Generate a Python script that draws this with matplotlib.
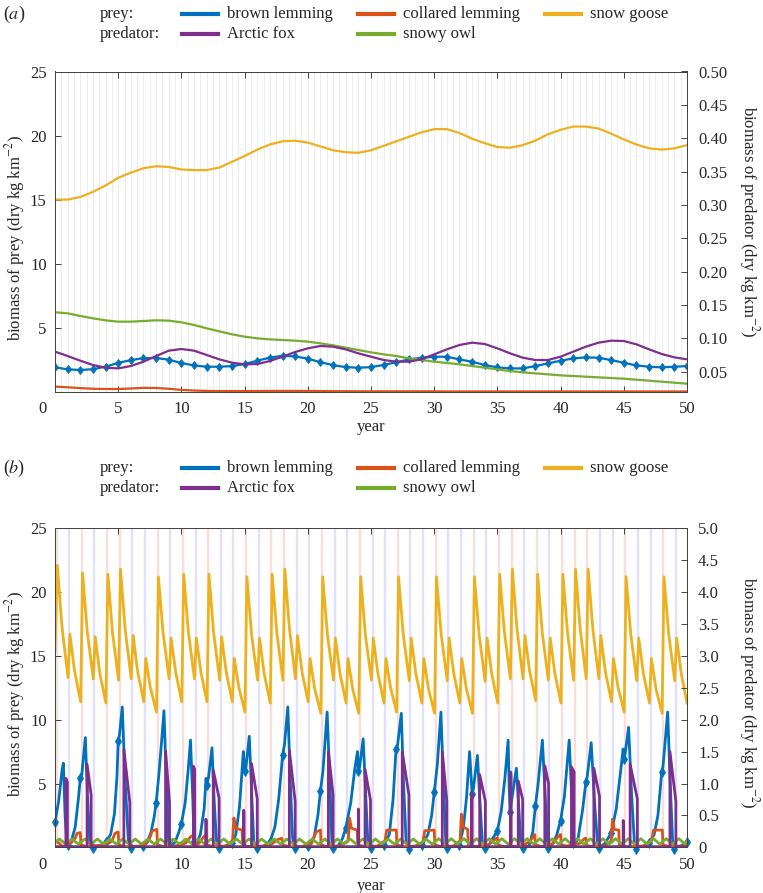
import matplotlib.pyplot as plt
from matplotlib.lines import Line2D
from matplotlib.ticker import FuncFormatter
from matplotlib.transforms import ScaledTranslation
import numpy as np

plt.rcParams['font.family'] = ['Liberation Serif', 'DejaVu Serif']
plt.rcParams['mathtext.fontset'] = 'stix'
plt.rcParams['font.size'] = 12

# ---------------- data ----------------
prey_names = ['brown lemming', 'collared lemming', 'snow goose']
predator_names = ['Arctic fox', 'snowy owl']

# panel (a): value at each year 0..50
years_a = list(range(51))
brown_a = [1.9, 1.75, 1.69, 1.76, 1.95, 2.25, 2.47, 2.62, 2.63, 2.5,
           2.24, 2.05, 1.95, 1.95, 2.0, 2.16, 2.42, 2.66, 2.81, 2.75,
           2.58, 2.3, 2.07, 1.92, 1.87, 1.92, 2.09, 2.3, 2.52, 2.65,
           2.73, 2.73, 2.52, 2.34, 2.08, 1.9, 1.82, 1.82, 2.0, 2.21,
           2.42, 2.6, 2.68, 2.65, 2.47, 2.26, 2.05, 1.95, 1.9, 1.95, 2.0]
collared_a = [0.4, 0.34, 0.28, 0.23, 0.21, 0.21, 0.25, 0.3, 0.29, 0.23,
              0.14, 0.09, 0.06, 0.05, 0.05, 0.05, 0.05, 0.06, 0.06, 0.06,
              0.06, 0.05, 0.04, 0.04, 0.03, 0.03, 0.03, 0.03, 0.03, 0.03,
              0.03, 0.02, 0.02, 0.02, 0.02, 0.02, 0.02, 0.02, 0.02, 0.02,
              0.02, 0.02, 0.02, 0.02, 0.02, 0.02, 0.02, 0.02, 0.02, 0.02, 0.02]
goose_a = [15.0, 15.0, 15.2, 15.6, 16.1, 16.7, 17.1, 17.45, 17.6, 17.55,
           17.35, 17.3, 17.3, 17.5, 17.95, 18.4, 18.9, 19.3, 19.55, 19.6,
           19.45, 19.15, 18.85, 18.7, 18.65, 18.85, 19.2, 19.55, 19.9, 20.25,
           20.5, 20.5, 20.2, 19.75, 19.4, 19.1, 19.05, 19.25, 19.6, 20.1,
           20.45, 20.7, 20.7, 20.55, 20.15, 19.7, 19.3, 19.0, 18.9, 19.0, 19.25]
fox_a = [0.08, 0.0735, 0.0665, 0.06, 0.056, 0.055, 0.0585, 0.065, 0.0735, 0.0815,
         0.084, 0.0815, 0.075, 0.0685, 0.0635, 0.061, 0.0615, 0.066, 0.0725, 0.0795,
         0.085, 0.0885, 0.0875, 0.0835, 0.0775, 0.0725, 0.0675, 0.065, 0.065, 0.0685,
         0.076, 0.0835, 0.09, 0.0935, 0.0915, 0.085, 0.0775, 0.071, 0.0675, 0.0675,
         0.0725, 0.08, 0.0875, 0.0935, 0.0965, 0.096, 0.091, 0.0835, 0.0765, 0.0715, 0.0685]
owl_a = [0.139, 0.1375, 0.1335, 0.13, 0.127, 0.125, 0.125, 0.126, 0.127, 0.1265,
         0.124, 0.12, 0.115, 0.1105, 0.106, 0.1025, 0.10, 0.0985, 0.0975, 0.0965,
         0.095, 0.0925, 0.0895, 0.086, 0.0825, 0.079, 0.076, 0.0735, 0.07, 0.0675,
         0.065, 0.063, 0.061, 0.0585, 0.056, 0.0535, 0.051, 0.049, 0.0475, 0.046,
         0.0445, 0.0435, 0.0425, 0.0415, 0.0405, 0.0395, 0.038, 0.0365, 0.035, 0.0335, 0.032]

# panel (b): snow goose, low point at start of each year, summer peak, mid-year value
goose_b_low = [15.4, 13.3, 11.4, 13.2, 11.3, 13.1, 13.2, 11.4, 10.6, 13.2,
               11.4, 13.2, 11.4, 13.1, 11.4, 10.6, 13.1, 11.3, 13.1, 13.2,
               11.4, 10.5, 13.1, 11.3, 10.5, 13.1, 11.3, 10.6, 13.05, 11.3,
               10.5, 13.05, 11.3, 10.5, 13.0, 11.3, 13.2, 13.2, 11.5, 13.1,
               11.3, 13.1, 13.2, 13.2, 11.4, 10.6, 13.05, 11.3, 10.5, 13.05, 11.3]
goose_b_peak = [22.1, 16.7, 21.5, 16.5, 21.4, 21.8, 16.6, 14.8, 21.2, 16.4,
                21.4, 16.4, 21.4, 16.5, 14.8, 21.2, 16.4, 21.4, 21.8, 16.6,
                14.8, 21.2, 16.4, 14.8, 21.2, 16.4, 14.8, 21.2, 16.4, 14.8,
                21.2, 16.4, 14.8, 21.2, 16.4, 21.4, 21.8, 16.6, 21.4, 16.4,
                21.4, 21.8, 21.8, 16.6, 14.8, 21.2, 16.4, 14.8, 21.2, 16.4]
goose_b_mid = [17.3, 13.8, 16.9, 13.6, 16.8, 17.1, 13.7, 12.5, 16.8, 13.7,
               16.9, 13.7, 16.8, 13.7, 12.5, 16.7, 13.6, 16.8, 17.1, 13.7,
               12.4, 16.7, 13.6, 12.4, 16.7, 13.6, 12.5, 16.7, 13.6, 12.4,
               16.7, 13.6, 12.4, 16.7, 13.6, 16.9, 17.1, 13.8, 16.8, 13.6,
               16.8, 17.1, 17.1, 13.7, 12.5, 16.7, 13.6, 12.4, 16.7, 13.6]

# panel (b): brown lemming (year, biomass)
brown_b = [(0.0, 1.95), (0.3, 3.7), (0.55, 6.0), (0.66, 6.6), (0.8, 2.4), (0.95, 0.3),
           (1.0, 0.15), (1.3, 0.5), (1.6, 1.6), (1.85, 3.8), (2.0, 5.4), (2.12, 5.7),
           (2.4, 8.6), (2.58, 3.8), (2.75, 0.6), (2.9, 0.0), (3.0, -0.05), (3.5, 0.05),
           (4.0, 0.4), (4.4, 1.0), (4.7, 2.6), (4.9, 5.5), (5.0, 8.3), (5.1, 8.8),
           (5.32, 11.0), (5.55, 5.2), (5.8, 0.6), (5.95, 0.0), (6.0, -0.05), (6.5, 0.0),
           (7.0, 0.1), (7.3, 0.4), (7.6, 1.2), (7.85, 2.4), (8.0, 3.5), (8.2, 5.5),
           (8.45, 8.5), (8.62, 10.7), (8.8, 5.5), (8.95, 1.0), (9.0, 0.5), (9.1, 0.05),
           (9.5, 0.4), (9.8, 1.2), (10.0, 1.85), (10.3, 3.5), (10.55, 6.2), (10.72, 8.4),
           (10.9, 3.8), (11.0, 0.5), (11.1, 0.1), (11.5, 1.0), (11.8, 3.0), (11.95, 5.4),
           (12.0, 4.9), (12.15, 5.5), (12.42, 7.8), (12.6, 3.5), (12.8, 0.1), (13.0, -0.05),
           (13.5, 0.1), (14.0, 0.3), (14.3, 1.0), (14.6, 3.2), (14.9, 7.5), (15.0, 6.0),
           (15.1, 6.2), (15.37, 8.7), (15.55, 4.5), (15.72, 0.5), (15.9, -0.05), (16.0, -0.05),
           (16.5, 0.1), (17.0, 0.4), (17.4, 1.6), (17.7, 3.8), (17.9, 6.0), (18.0, 7.2),
           (18.15, 8.0), (18.42, 11.0), (18.62, 5.0), (18.8, 0.7), (18.95, 0.0), (19.0, -0.05),
           (19.5, 0.0), (20.0, 0.1), (20.5, 0.8), (20.8, 2.5), (21.0, 4.4), (21.2, 6.0),
           (21.53, 10.6), (21.75, 5.0), (21.9, 0.5), (22.0, -0.05), (22.4, 0.1), (22.75, 0.7),
           (23.0, 1.5), (23.4, 3.5), (23.7, 6.0), (23.93, 7.5), (24.0, 6.0), (24.1, 6.3),
           (24.38, 8.5), (24.58, 4.2), (24.75, 0.5), (24.9, -0.05), (25.0, -0.05), (25.5, 0.05),
           (26.0, 0.2), (26.45, 1.0), (26.75, 3.8), (26.95, 7.2), (27.0, 7.7), (27.1, 8.0),
           (27.4, 10.5), (27.58, 4.9), (27.78, 0.4), (28.0, -0.1), (28.5, 0.0), (29.0, 0.15),
           (29.5, 1.0), (29.8, 2.5), (30.0, 4.3), (30.25, 6.5), (30.53, 10.6), (30.74, 4.9),
           (30.92, 0.3), (31.0, -0.05), (31.5, 0.0), (32.0, 0.2), (32.3, 1.5), (32.55, 3.8),
           (32.8, 7.5), (33.0, 4.2), (33.1, 4.6), (33.42, 7.2), (33.62, 3.5), (33.82, 0.3),
           (34.0, -0.05), (34.4, 0.3), (34.7, 0.8), (35.0, 1.3), (35.3, 2.8), (35.6, 5.5),
           (35.85, 8.4), (35.93, 4.8), (36.0, 2.75), (36.1, 3.5), (36.5, 6.2), (36.7, 3.0),
           (36.85, 0.3), (37.0, -0.05), (37.5, 0.1), (37.8, 1.2), (38.0, 3.2), (38.2, 4.8),
           (38.56, 8.4), (38.8, 3.6), (38.95, 0.3), (39.0, -0.05), (39.4, 0.3), (39.7, 1.0),
           (40.0, 2.1), (40.3, 4.0), (40.68, 8.4), (40.9, 3.6), (41.0, 0.3), (41.1, 0.1),
           (41.4, 0.8), (41.75, 3.0), (42.0, 5.1), (42.1, 5.5), (42.42, 8.2), (42.7, 3.3),
           (42.95, 0.0), (43.0, -0.05), (43.5, 0.3), (44.0, 1.1), (44.4, 3.0), (44.75, 6.0),
           (44.95, 7.7), (45.0, 6.9), (45.1, 7.3), (45.38, 9.4), (45.62, 4.1), (45.85, 0.2),
           (46.0, -0.1), (46.5, 0.0), (47.0, 0.3), (47.4, 1.0), (47.7, 2.5), (48.0, 5.9),
           (48.1, 6.3), (48.47, 10.6), (48.66, 5.4), (48.87, 0.3), (49.0, -0.1), (49.5, 0.1),
           (50.0, 0.4)]

# panel (b): collared lemming (year, biomass)
collared_b = [(0.0, 0.5), (0.3, 0.35), (0.55, 0.1), (0.9, 0.1), (1.2, 0.3), (1.55, 0.6),
              (1.75, 1.1), (2.0, 1.15), (2.05, 0.2), (2.5, 0.05), (3.5, 0.15), (4.2, 0.3),
              (4.5, 0.5), (4.75, 1.1), (5.0, 1.2), (5.05, 0.2), (5.5, 0.05), (6.7, 0.1),
              (7.1, 0.2), (7.45, 0.6), (7.7, 1.3), (8.05, 1.4), (8.1, 0.2), (8.6, 0.05),
              (9.5, 0.1), (10.3, 0.3), (10.75, 0.85), (10.95, 0.95), (11.0, 0.2), (11.3, 0.2),
              (11.75, 0.8), (11.95, 1.0), (12.0, 0.2), (12.5, 0.05), (13.5, 0.1), (14.05, 0.5),
              (14.15, 2.3), (14.3, 1.5), (14.8, 1.35), (14.85, 0.2), (15.3, 0.05), (16.5, 0.1),
              (17.2, 0.3), (17.6, 0.6), (17.95, 0.7), (18.0, 0.2), (18.5, 0.05), (19.5, 0.05),
              (20.3, 0.3), (20.65, 1.2), (21.0, 1.35), (21.05, 0.2), (21.5, 0.05), (22.5, 0.1),
              (23.2, 0.5), (23.3, 2.3), (23.45, 1.5), (23.9, 1.35), (23.95, 0.2), (24.5, 0.05),
              (25.5, 0.1), (26.1, 0.5), (26.25, 1.35), (27.0, 1.35), (27.05, 0.2), (27.5, 0.05),
              (28.5, 0.1), (29.1, 0.4), (29.25, 1.3), (30.0, 1.35), (30.05, 0.2), (30.5, 0.05),
              (31.5, 0.1), (32.05, 0.5), (32.15, 2.6), (32.3, 1.6), (32.65, 1.4), (32.7, 0.2),
              (33.2, 0.05), (34.3, 0.2), (34.8, 0.6), (35.0, 0.75), (35.05, 0.2), (35.5, 0.05),
              (37.0, 0.1), (37.6, 0.5), (37.95, 1.0), (38.0, 0.2), (38.5, 0.05), (39.4, 0.3),
              (39.85, 0.9), (40.0, 1.0), (40.05, 0.2), (40.5, 0.1), (41.5, 0.3), (41.9, 0.7),
              (42.0, 0.7), (42.05, 0.15), (42.5, 0.05), (43.5, 0.1), (44.0, 0.5), (44.1, 2.2),
              (44.25, 1.4), (44.6, 1.35), (44.65, 0.2), (45.2, 0.05), (46.5, 0.1), (47.2, 0.5),
              (47.35, 1.35), (48.05, 1.35), (48.1, 0.2), (48.6, 0.05), (49.5, 0.1), (50.0, 0.2)]

# panel (b): Arctic fox breeding pulses (start, top, end, value at end), baseline between
fox_b_base = 0.01
fox_b_on = [0.86, 2.54, 5.45, 8.75, 10.95, 11.94, 12.52, 14.93, 15.55, 18.54, 21.63, 24.0, 24.53,
            27.47, 30.64, 32.97, 33.6, 36.05, 36.65, 38.75, 40.86, 42.63, 44.95, 45.5, 48.65]
fox_b_top = [1.08, 1.30, 1.53, 1.51, 1.27, 0.44, 1.21, 0.58, 1.31, 1.52, 1.50, 0.60, 1.22,
             1.50, 1.50, 0.86, 1.14, 1.18, 1.04, 1.28, 1.26, 1.24, 0.42, 1.30, 1.50]
fox_b_off = [0.98, 2.86, 5.92, 9.06, 11.05, 11.96, 12.98, 14.95, 16.0, 19.0, 22.0, 24.02, 24.96,
             28.0, 31.0, 32.99, 34.05, 36.08, 37.0, 39.05, 41.07, 43.08, 44.97, 46.07, 49.12]
fox_b_end = [1.02, 0.82, 0.70, 0.70, 1.22, 0.40, 0.77, 0.55, 0.76, 0.72, 0.82, 0.56, 0.74,
             0.82, 0.72, 0.80, 0.72, 1.12, 0.75, 1.0, 1.18, 0.8, 0.38, 0.76, 0.72]

# panel (b): snowy owl, yearly high and low
owl_b_start, owl_b_last = 0.08, 0.1
owl_b_crest = [0.13, 0.13, 0.13, 0.13, 0.13, 0.13, 0.13, 0.13, 0.13, 0.13,
               0.13, 0.13, 0.13, 0.13, 0.13, 0.13, 0.13, 0.13, 0.13, 0.13,
               0.13, 0.13, 0.13, 0.13, 0.13, 0.13, 0.13, 0.13, 0.13, 0.13,
               0.135, 0.135, 0.135, 0.135, 0.135, 0.135, 0.135, 0.135, 0.135, 0.135,
               0.135, 0.135, 0.135, 0.135, 0.135, 0.135, 0.135, 0.135, 0.135, 0.135]
owl_b_trough = [0.05, 0.05, 0.05, 0.05, 0.05, 0.05, 0.05, 0.05, 0.05, 0.05,
                0.05, 0.05, 0.05, 0.05, 0.05, 0.05, 0.05, 0.05, 0.05, 0.05,
                0.05, 0.05, 0.05, 0.05, 0.05, 0.05, 0.05, 0.05, 0.05, 0.05,
                0.05, 0.05, 0.05, 0.05, 0.05, 0.05, 0.05, 0.05, 0.05, 0.05,
                0.05, 0.05, 0.05, 0.05, 0.05, 0.05, 0.05, 0.05, 0.05, 0.05]

# ---------------- style ----------------
C_BROWN, C_COLL, C_GOOSE = '#0072BD', '#D95319', '#EDB120'
C_FOX, C_OWL = '#7E2F8E', '#77AC30'
AX_COL = '#262626'
W, H = 763, 893


def style_axes(fig, ax, ax2, rlim, rticks, rfmt, rlabel_y, xlabel_y):
	ax.set_xlim(0, 50)
	ax.set_ylim(0, 25)
	ax.set_xticks(range(0, 51, 5))
	ax.set_yticks(range(5, 26, 5))
	ax.tick_params(axis='x', top=True, bottom=True, direction='in', length=4,
	               width=0.6, pad=7, colors=AX_COL)
	ax.tick_params(axis='y', left=True, right=False, direction='in', length=4,
	               width=0.6, pad=6, colors=AX_COL)
	ax2.set_ylim(*rlim)
	ax2.set_yticks(rticks)
	ax2.yaxis.set_major_formatter(FuncFormatter(rfmt))
	ax2.tick_params(axis='y', direction='in', length=4, width=0.6, pad=8, colors=AX_COL)
	for a in (ax, ax2):
		for sp in a.spines.values():
			sp.set_linewidth(0.7)
			sp.set_color('#444444')
	ax.set_xlabel('year', color=AX_COL)
	ax.xaxis.set_label_coords(0.5, xlabel_y)
	ax.set_ylabel('biomass of prey (dry kg km$^{-2}$)', color=AX_COL)
	ax.yaxis.set_label_coords(-0.063, 0.48)
	ax.yaxis.label.set_va('center')
	ax2.set_ylabel('biomass of predator (dry kg km$^{-2}$)', rotation=270, color=AX_COL)
	ax2.yaxis.set_label_coords(1.098, rlabel_y)
	ax2.yaxis.label.set_va('center')
	# the "0" year label sits left of the axis corner
	zero = ax.xaxis.get_majorticklabels()[0]
	zero.set_transform(zero.get_transform() + ScaledTranslation(-0.125, 0, fig.dpi_scale_trans))


def draw_legend(fig, y_px, tag):
	prey = list(zip(prey_names, [C_BROWN, C_COLL, C_GOOSE]))
	pred = list(zip(predator_names, [C_FOX, C_OWL]))
	handle_x = [182, 358, 545]
	fig.text(3 / W, 1 - y_px / H, '($\\mathit{' + tag + '}$)', va='center', ha='left',
	         fontsize=13, color=AX_COL)
	for r, (head, entries) in enumerate([('prey:', prey), ('predator:', pred)]):
		y = 1 - (y_px + 19.5 * r) / H
		fig.text(100 / W, y, head, va='center', ha='left', color=AX_COL)
		for c, (name, color) in enumerate(entries):
			x0 = handle_x[c]
			fig.add_artist(Line2D([x0 / W, (x0 + 36) / W], [y, y], color=color, lw=3,
			                      transform=fig.transFigure))
			fig.text((x0 + 45) / W, y, name, va='center', ha='left', color=AX_COL)


fig = plt.figure(figsize=(W / 100, H / 100), dpi=100)

# ---------------- panel (a) ----------------
ax_a = fig.add_axes([55 / W, 1 - 391.7 / H, 632 / W, 320.2 / H])
ax_a2 = ax_a.twinx()
ax_a.vlines(np.arange(0.5, 50, 0.5), 0, 1, transform=ax_a.get_xaxis_transform(),
            colors='#ededed', lw=0.8, zorder=0)
ax_a.plot(years_a, goose_a, color=C_GOOSE, lw=1.6)
ax_a.plot(years_a, collared_a, color=C_COLL, lw=1.6)
ax_a.plot(years_a, brown_a, color=C_BROWN, lw=1.6, marker='d', ms=4.5, mew=0.6)
ax_a2.plot(years_a, owl_a, color=C_OWL, lw=1.6)
ax_a2.plot(years_a, fox_a, color=C_FOX, lw=1.6)
style_axes(fig, ax_a, ax_a2, (0.02, 0.5), np.arange(0.05, 0.501, 0.05),
           lambda v, p: '%.2f' % v, 0.53, -0.086)
draw_legend(fig, 14, 'a')

# ---------------- panel (b) ----------------
ax_b = fig.add_axes([55 / W, 1 - 847.3 / H, 632 / W, 319 / H])
ax_b2 = ax_b.twinx()

# season marker lines: pink in good goose years, lavender otherwise
for n, pk in enumerate(goose_b_peak):
	ax_b.axvline(n + 0.12, color='#ffdcdc' if pk > 19 else '#dfdfff', lw=1.6, zorder=0)

goose_t, goose_v = [0.0], [goose_b_low[0]]
for n in range(50):
	goose_t += [n + 0.18, n + 0.55, min(n + 1.03, 50.0)]
	goose_v += [goose_b_peak[n], goose_b_mid[n], goose_b_low[n + 1]]
ax_b.plot(goose_t, goose_v, color=C_GOOSE, lw=2)

bt = np.array([p[0] for p in brown_b])
bv = np.array([p[1] for p in brown_b])
ax_b.plot(bt, bv, color=C_BROWN, lw=2)
on_year = np.isclose(bt, np.round(bt))
ax_b.plot(bt[on_year], bv[on_year], ls='none', color=C_BROWN, marker='d', ms=5,
          mew=0.6, clip_on=False)

ax_b.plot([p[0] for p in collared_b], [p[1] for p in collared_b], color=C_COLL, lw=2)

owl_t, owl_v = [0.0], [owl_b_start]
for n in range(50):
	owl_t += [n + 0.35, n + 0.85]
	owl_v += [owl_b_crest[n], owl_b_trough[n]]
owl_t.append(50.0)
owl_v.append(owl_b_last)
ax_b2.plot(owl_t, owl_v, color=C_OWL, lw=2)

fox_t, fox_v = [0.0], [fox_b_base]
for on, top, off, end in zip(fox_b_on, fox_b_top, fox_b_off, fox_b_end):
	fox_t += [on, on, off, off]
	fox_v += [fox_b_base, top, end, fox_b_base]
fox_t.append(50.0)
fox_v.append(fox_b_base)
ax_b2.plot(fox_t, fox_v, color=C_FOX, lw=2)

style_axes(fig, ax_b, ax_b2, (0, 5), np.arange(0, 5.01, 0.5),
           lambda v, p: '0' if abs(v) < 1e-9 else '%.1f' % v, 0.485, -0.096)
draw_legend(fig, 468, 'b')

fig.savefig('out.png', dpi=100)
